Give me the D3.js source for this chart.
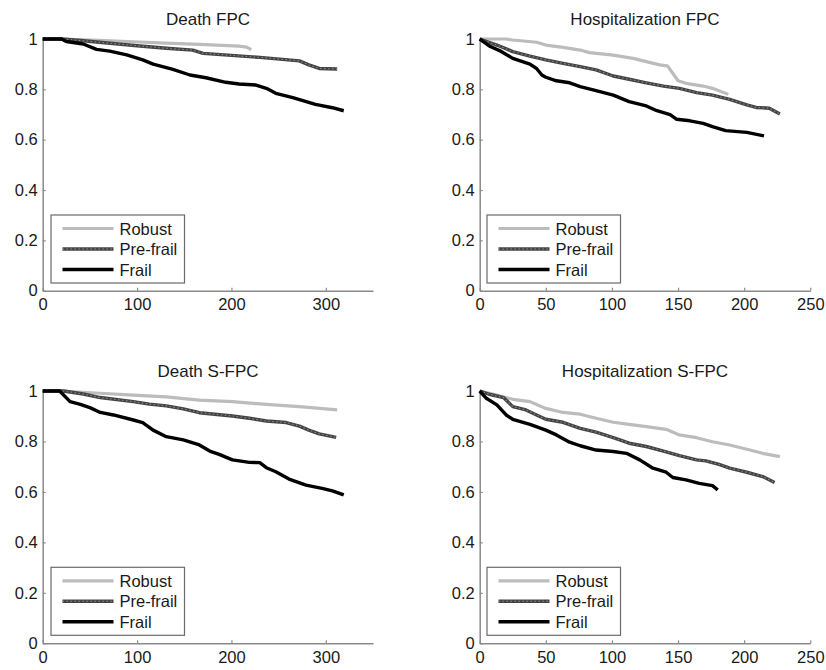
<!DOCTYPE html>
<html><head><meta charset="utf-8">
<script src="https://cdn.jsdelivr.net/npm/d3@7/dist/d3.min.js"></script>
<style>body{margin:0;background:#fff}svg{display:block}</style>
</head><body>
<svg id="chart" width="826" height="670"></svg>
<script>
// ---- data ----
const titles = ["Death FPC", "Hospitalization FPC", "Death S-FPC", "Hospitalization S-FPC"];
const seriesNames = ["Robust", "Pre-frail", "Frail"];
const xTicksDeath = [0, 100, 200, 300];
const xTicksHosp = [0, 50, 100, 150, 200, 250];
const yTicks = [0, 0.2, 0.4, 0.6, 0.8, 1];

const deathFPC_robust = [[0,1],[20,1],[60,0.995],[96,0.989],[130,0.984],[166,0.979],[208,0.972],[216,0.968],[221,0.958]];
const deathFPC_prefrail = [[0,1],[20,1],[43,0.993],[60,0.987],[100,0.973],[131,0.963],[159,0.956],[170,0.943],[200,0.935],[230,0.927],[254,0.919],[272,0.913],[282,0.897],[293,0.883],[312,0.881]];
const deathFPC_frail = [[0,1],[20,1],[25,0.99],[43,0.98],[57,0.959],[71,0.952],[89,0.937],[106,0.917],[117,0.9],[138,0.879],[156,0.857],[173,0.846],[194,0.828],[208,0.821],[226,0.817],[237,0.804],[247,0.784],[265,0.767],[289,0.74],[307,0.727],[319,0.715]];

const hospFPC_robust = [[0,1],[20,1],[25,0.996],[43,0.987],[50,0.976],[63,0.967],[76,0.956],[83,0.946],[101,0.936],[116,0.923],[126,0.91],[136,0.897],[142,0.893],[146,0.864],[150,0.834],[156,0.824],[169,0.813],[176,0.804],[188,0.78]];
const hospFPC_prefrail = [[0,1],[13,0.976],[25,0.95],[38,0.932],[50,0.917],[63,0.903],[76,0.89],[88,0.877],[101,0.853],[113,0.84],[126,0.826],[139,0.813],[151,0.804],[164,0.787],[176,0.777],[189,0.76],[202,0.738],[209,0.728],[219,0.725],[227,0.702]];
const hospFPC_frail = [[0,1],[8,0.97],[15,0.954],[25,0.923],[38,0.9],[43,0.883],[47,0.857],[50,0.848],[58,0.834],[68,0.826],[76,0.811],[88,0.795],[101,0.777],[113,0.751],[126,0.734],[134,0.715],[144,0.7],[149,0.681],[159,0.675],[169,0.665],[176,0.652],[186,0.636],[202,0.629],[215,0.615]];

const deathSFPC_robust = [[0,1],[20,1],[61,0.991],[96,0.984],[131,0.977],[166,0.964],[201,0.958],[237,0.947],[272,0.938],[312,0.925]];
const deathSFPC_prefrail = [[0,1],[22,1],[43,0.988],[61,0.974],[96,0.958],[113,0.948],[131,0.941],[149,0.929],[166,0.914],[201,0.901],[219,0.892],[237,0.881],[258,0.875],[272,0.861],[282,0.845],[293,0.83],[311,0.816]];
const deathSFPC_frail = [[0,1],[18,1],[29,0.958],[39,0.948],[50,0.934],[61,0.915],[75,0.905],[96,0.885],[106,0.875],[117,0.845],[131,0.819],[149,0.806],[166,0.786],[177,0.762],[187,0.749],[201,0.727],[219,0.717],[230,0.716],[237,0.696],[247,0.68],[261,0.651],[279,0.627],[296,0.614],[307,0.604],[319,0.588]];

const hospSFPC_robust = [[0,1],[13,0.984],[25,0.967],[38,0.958],[50,0.931],[63,0.915],[76,0.908],[88,0.892],[101,0.876],[113,0.868],[126,0.859],[141,0.848],[151,0.826],[164,0.815],[176,0.799],[189,0.786],[202,0.769],[214,0.753],[227,0.74]];
const hospSFPC_prefrail = [[0,1],[8,0.986],[18,0.974],[25,0.938],[35,0.925],[43,0.905],[50,0.888],[63,0.876],[76,0.852],[88,0.837],[101,0.815],[113,0.793],[126,0.78],[139,0.762],[151,0.744],[164,0.727],[171,0.723],[181,0.709],[189,0.694],[202,0.678],[214,0.661],[223,0.637]];
const hospSFPC_frail = [[0,1],[5,0.971],[13,0.945],[20,0.905],[25,0.888],[38,0.868],[50,0.845],[58,0.826],[68,0.797],[76,0.783],[88,0.766],[101,0.76],[111,0.753],[121,0.727],[131,0.694],[141,0.678],[146,0.657],[156,0.648],[166,0.634],[176,0.625],[180,0.608]];

const panelSeries = [
  [deathFPC_robust, deathFPC_prefrail, deathFPC_frail],
  [hospFPC_robust, hospFPC_prefrail, hospFPC_frail],
  [deathSFPC_robust, deathSFPC_prefrail, deathSFPC_frail],
  [hospSFPC_robust, hospSFPC_prefrail, hospSFPC_frail]
];
const xMax = [350, 250, 350, 250];
const xTickSets = [xTicksDeath, xTicksHosp, xTicksDeath, xTicksHosp];

// ---- layout ----
const panels = [
  {x0: 42.7, x1: 373, y0: 39, y1: 290.7, tx: 208, ty: 24.5, lx: 51, ly: 215},
  {x0: 479.7, x1: 810.3, y0: 39, y1: 290.7, tx: 645, ty: 24.5, lx: 487, ly: 215},
  {x0: 42.7, x1: 373, y0: 391, y1: 643.3, tx: 208, ty: 376.5, lx: 51, ly: 567.3},
  {x0: 479.7, x1: 810.3, y0: 391, y1: 643.3, tx: 645, ty: 376.5, lx: 487, ly: 567.3}
];
const font = "Liberation Sans, Arial, sans-serif";
const svg = d3.select("#chart");

function drawSeries(g, pathData, k) {
  if (k === 0) {
    g.append("path").attr("d", pathData).attr("fill", "none")
      .attr("stroke", "#bcbcbc").attr("stroke-width", 3.2).attr("stroke-linejoin", "round");
  } else if (k === 1) {
    g.append("path").attr("d", pathData).attr("fill", "none")
      .attr("stroke", "#444").attr("stroke-width", 3.4).attr("stroke-linejoin", "round");
    g.append("path").attr("d", pathData).attr("fill", "none")
      .attr("stroke", "#8c8c8c").attr("stroke-width", 1.1).attr("stroke-dasharray", "1.5,2.5");
  } else {
    g.append("path").attr("d", pathData).attr("fill", "none")
      .attr("stroke", "#000").attr("stroke-width", 3.4).attr("stroke-linejoin", "round");
  }
}

panels.forEach((p, i) => {
  const x = d3.scaleLinear().domain([0, xMax[i]]).range([p.x0, p.x1]);
  const y = d3.scaleLinear().domain([0, 1]).range([p.y1, p.y0]);
  const g = svg.append("g");

  const xa = g.append("g").attr("transform", `translate(0,${p.y1})`)
    .call(d3.axisBottom(x).tickValues(xTickSets[i]).tickSizeInner(-3).tickSizeOuter(0).tickPadding(8).tickFormat(d3.format("d")));
  const ya = g.append("g").attr("transform", `translate(${p.x0},0)`)
    .call(d3.axisLeft(y).tickValues(yTicks).tickSizeInner(-3).tickSizeOuter(0).tickPadding(5).tickFormat(d => d === 0 ? "0" : d === 1 ? "1" : d3.format(".1f")(d)));
  [xa, ya].forEach(a => {
    a.select(".domain").attr("stroke", "#8a8a8a").attr("stroke-width", 1.5);
    a.selectAll(".tick line").attr("stroke", "#8a8a8a").attr("stroke-width", 1.2);
    a.selectAll(".tick text").attr("fill", "#1a1a1a").style("font-family", font).style("font-size", "16.5px");
  });

  const line = d3.line().x(d => x(d[0])).y(d => y(d[1]));
  panelSeries[i].forEach((s, k) => drawSeries(g, line(s), k));

  g.append("text").attr("x", p.tx).attr("y", p.ty).attr("text-anchor", "middle")
    .style("font-family", font).style("font-size", "17px").attr("fill", "#1a1a1a").text(titles[i]);

  // legend
  const lg = g.append("g").attr("transform", `translate(${p.lx},${p.ly})`);
  lg.append("rect").attr("x", 0).attr("y", 0).attr("width", 133.5).attr("height", 68)
    .attr("fill", "#fff").attr("stroke", "#6a6a6a").attr("stroke-width", 1.2);
  seriesNames.forEach((n, k) => {
    const yy = 13.5 + k * 20.5;
    drawSeries(lg, `M11.5,${yy}H62.5`, k);
    lg.append("text").attr("x", 68.5).attr("y", yy + 6).style("font-family", font)
      .style("font-size", "16.5px").attr("fill", "#1a1a1a").text(n);
  });
});
</script>
</body></html>
